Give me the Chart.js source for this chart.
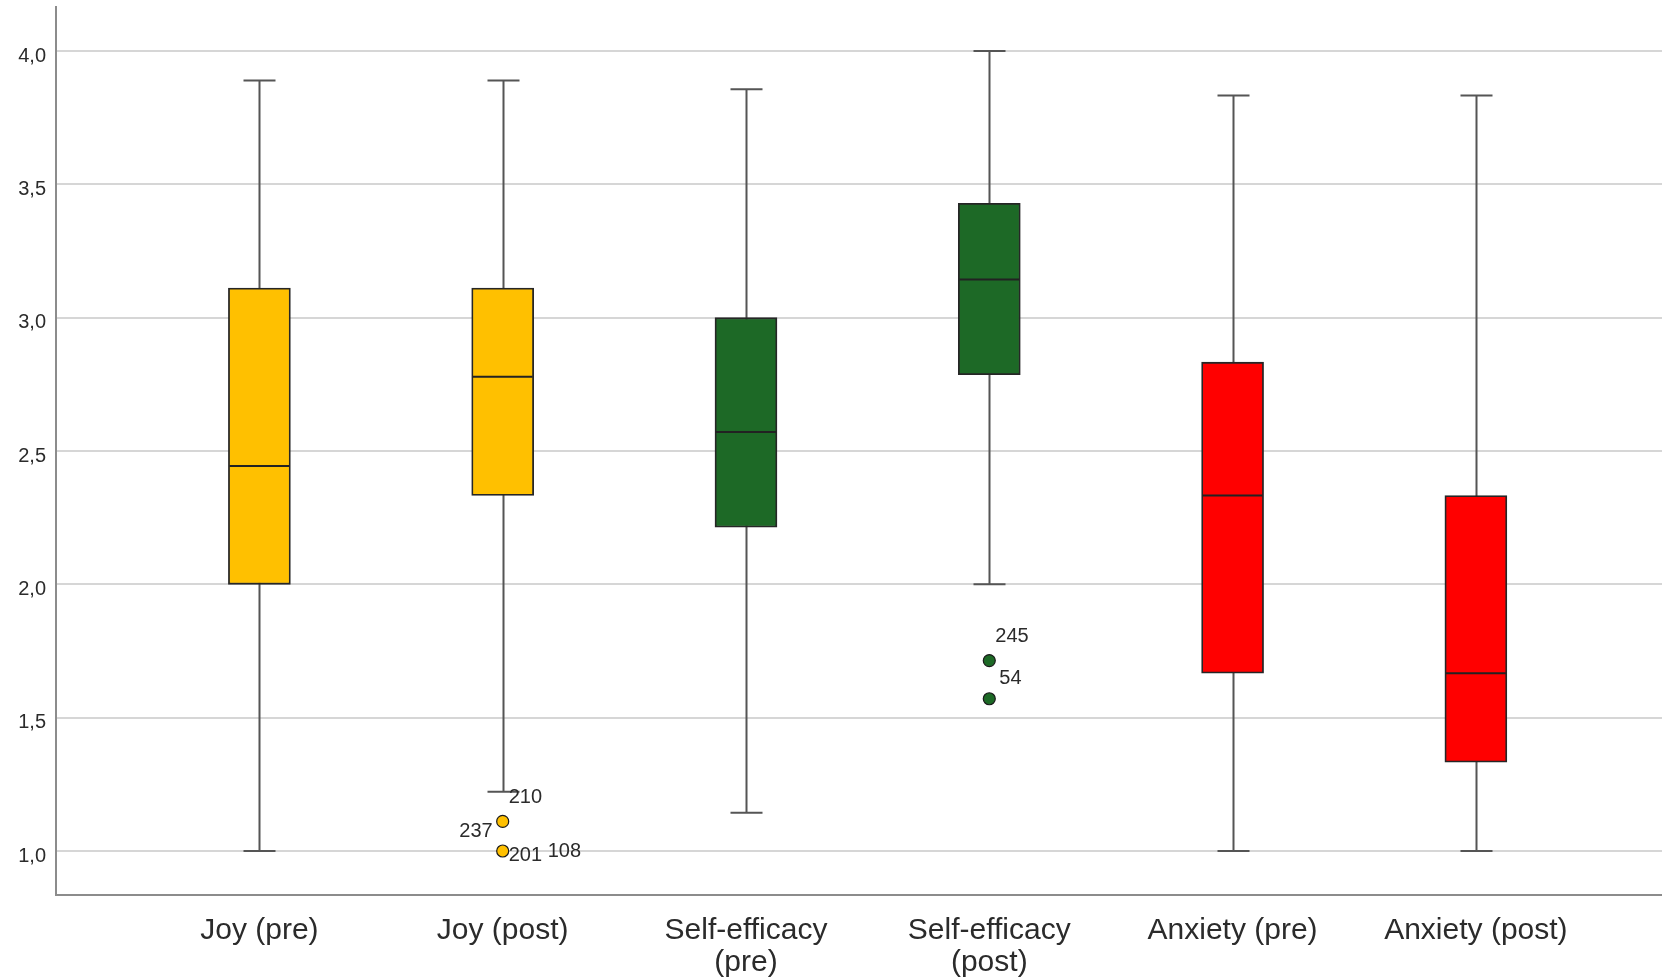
<!DOCTYPE html>
<html>
<head>
<meta charset="utf-8">
<title>Joy, Self-efficacy and Anxiety (pre / post)</title>
<script src="https://cdn.jsdelivr.net/npm/chart.js@4.4.1/dist/chart.umd.min.js"></script>
<style>
  html, body { margin: 0; padding: 0; background: #ffffff; }
  #wrap { width: 1662px; height: 978px; }
</style>
</head>
<body>
<div id="wrap"><canvas id="box" width="1662" height="978"></canvas></div>
<script>
// ---- data -------------------------------------------------------------
const categories = [
  ['Joy (pre)'],
  ['Joy (post)'],
  ['Self-efficacy', '(pre)'],
  ['Self-efficacy', '(post)'],
  ['Anxiety (pre)'],
  ['Anxiety (post)']
];
const whiskerLow  = [1.000, 1.222, 1.143, 2.000, 1.000, 1.000];
const quartile1   = [2.000, 2.333, 2.214, 2.786, 1.667, 1.333];
const medians     = [2.444, 2.778, 2.571, 3.143, 2.333, 1.667];
const quartile3   = [3.111, 3.111, 3.000, 3.429, 2.833, 2.333];
const whiskerHigh = [3.889, 3.889, 3.857, 4.000, 3.833, 3.833];

// outliers: category number (1-based), value, case ids printed beside the dot
const outlierCategory = [2, 2, 4, 4];
const outlierValues   = [1.111, 1.000, 1.714, 1.571];
const outlierCases    = [['210', '237'], ['201', '108'], ['245'], ['54']];

const yTicks = [1.0, 1.5, 2.0, 2.5, 3.0, 3.5, 4.0];

// ---- styling ----------------------------------------------------------
const YELLOW = '#FFC000';
const GREEN  = '#1D6926';
const RED    = '#FF0000';
const boxFill = [YELLOW, YELLOW, GREEN, GREEN, RED, RED];
const INK = '#2b2b2b';
const WHISKER = '#555555';
const CAP_HALF = 16;
const FONT = '"Liberation Sans", Arial, sans-serif';

// where each case id sits relative to its dot (px): [dx, dy, align]
const caseLabelPlacement = {
  '210': [6, -24, 'left'],
  '237': [-10, 10, 'right'],
  '201': [6, 4, 'left'],
  '108': [45, 0, 'left'],
  '245': [6, -24, 'left'],
  '54':  [10, -20, 'left']
};

const catIndex = categories.map((_, i) => i + 1);

// whiskers + caps under the boxes, medians and case ids on top
const boxDecor = {
  id: 'boxDecor',
  beforeDatasetsDraw(chart) {
    const { ctx, scales: { x, y } } = chart;
    ctx.save();
    ctx.strokeStyle = WHISKER;
    ctx.lineWidth = 2;
    catIndex.forEach((c, i) => {
      const px = Math.round(x.getPixelForValue(c)) + 0.5;
      const lo = y.getPixelForValue(whiskerLow[i]);
      const hi = y.getPixelForValue(whiskerHigh[i]);
      ctx.beginPath();
      ctx.moveTo(px, lo); ctx.lineTo(px, hi);
      ctx.moveTo(px - CAP_HALF, lo); ctx.lineTo(px + CAP_HALF, lo);
      ctx.moveTo(px - CAP_HALF, hi); ctx.lineTo(px + CAP_HALF, hi);
      ctx.stroke();
    });
    ctx.restore();
  },
  afterDatasetsDraw(chart) {
    const { ctx, scales: { x, y } } = chart;
    const bars = chart.getDatasetMeta(0).data;
    ctx.save();
    ctx.strokeStyle = '#222222';
    ctx.lineWidth = 2;
    bars.forEach((bar, i) => {
      const half = bar.width / 2;
      const my = y.getPixelForValue(medians[i]);
      ctx.beginPath();
      ctx.moveTo(bar.x - half + 1, my);
      ctx.lineTo(bar.x + half - 1, my);
      ctx.stroke();
    });
    ctx.fillStyle = INK;
    ctx.font = '20px ' + FONT;
    ctx.textBaseline = 'middle';
    outlierValues.forEach((v, k) => {
      const px = x.getPixelForValue(outlierCategory[k]);
      const py = y.getPixelForValue(v);
      outlierCases[k].forEach(id => {
        const [dx, dy, align] = caseLabelPlacement[id];
        ctx.textAlign = align;
        ctx.fillText(id, px + dx, py + dy);
      });
    });
    ctx.restore();
  }
};

new Chart(document.getElementById('box'), {
  type: 'bar',
  data: {
    datasets: [
      {
        type: 'bar',
        data: catIndex.map((c, i) => ({ x: c, y: [quartile1[i], quartile3[i]] })),
        backgroundColor: boxFill,
        borderColor: '#262626',
        borderWidth: 1.8,
        borderSkipped: false,
        barThickness: 62,
        order: 2
      },
      {
        type: 'scatter',
        data: outlierValues.map((v, k) => ({ x: outlierCategory[k], y: v })),
        backgroundColor: outlierCategory.map(c => boxFill[c - 1]),
        borderColor: '#1a1a1a',
        borderWidth: 1.2,
        pointRadius: 6,
        order: 1
      }
    ]
  },
  plugins: [boxDecor],
  options: {
    responsive: false,
    animation: false,
    events: [],
    layout: { autoPadding: false, padding: { top: 7, right: 0, left: 0, bottom: 0 } },
    plugins: { legend: { display: false }, tooltip: { enabled: false } },
    scales: {
      x: {
        type: 'linear',
        offset: false,
        min: 0.164,
        max: 6.765,
        afterBuildTicks(scale) { scale.ticks = catIndex.map(v => ({ value: v })); },
        afterFit(scale) {
          scale.height = 83;
          scale.paddingLeft = 0;
          scale.paddingRight = 0;
        },
        grid: { display: false, drawTicks: false, offset: false },
        border: { display: true, color: '#8c8c8c', width: 2 },
        ticks: {
          autoSkip: false,
          maxRotation: 0,
          padding: 20,
          color: INK,
          font: { family: FONT, size: 30, lineHeight: 1.07 },
          callback: (v) => categories[v - 1]
        }
      },
      y: {
        type: 'linear',
        min: 0.835,
        max: 4.165,
        afterBuildTicks(scale) { scale.ticks = yTicks.map(v => ({ value: v })); },
        afterFit(scale) {
          scale.width = 56;
          scale.paddingTop = 0;
          scale.paddingBottom = 0;
        },
        grid: { color: '#d6d6d6', lineWidth: 2, drawTicks: false },
        border: { display: true, color: '#8c8c8c', width: 2 },
        ticks: {
          padding: 10,
          labelOffset: 5,
          color: INK,
          font: { family: FONT, size: 20 },
          callback: (v) => v.toFixed(1).replace('.', ',')
        }
      }
    }
  }
});
</script>
</body>
</html>
